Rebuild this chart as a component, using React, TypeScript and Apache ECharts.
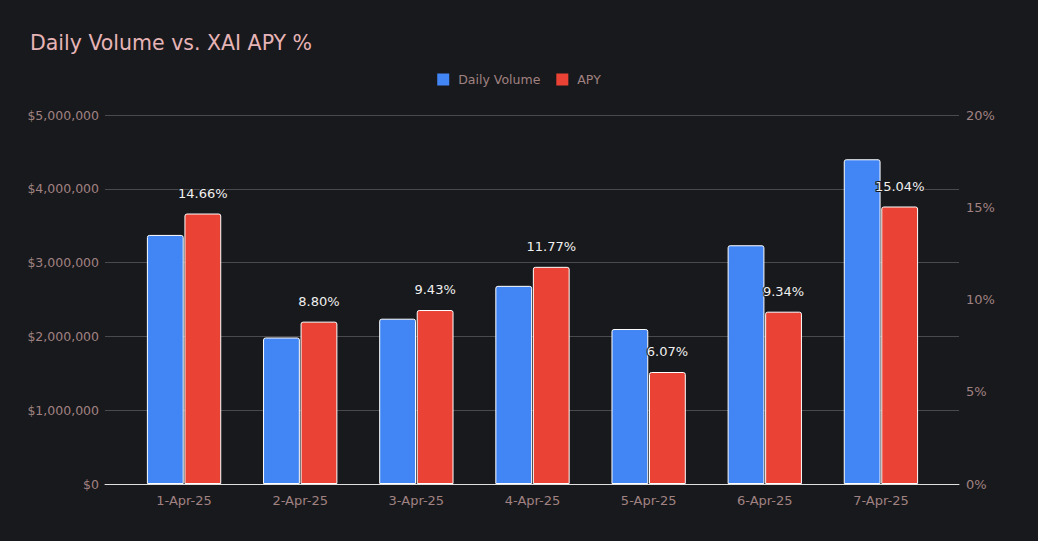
import React, { useEffect, useRef } from "react";
import * as echarts from "echarts";

const categories = ["1-Apr-25", "2-Apr-25", "3-Apr-25", "4-Apr-25", "5-Apr-25", "6-Apr-25", "7-Apr-25"];
const dailyVolume = [3375000, 1985000, 2240000, 2685000, 2100000, 3235000, 4400000];
const apy = [14.66, 8.8, 9.43, 11.77, 6.07, 9.34, 15.04];

const FONT = "'DejaVu Sans', Verdana, sans-serif";
const LABEL = "#a08282";

export default function App() {
  const ref = useRef<HTMLDivElement>(null);
  useEffect(() => {
    if (!ref.current) return;
    const chart = echarts.init(ref.current, undefined, { renderer: "svg" });
    chart.setOption({
      animation: false,
      backgroundColor: "#18191c",
      textStyle: { fontFamily: FONT },
      title: {
        text: "Daily Volume vs. XAI APY %",
        left: 25,
        top: 27,
        textStyle: { color: "#e6b4b6", fontSize: 20.5, fontWeight: "normal", fontFamily: FONT },
      },
      legend: {
        top: 68,
        left: "center",
        icon: "rect",
        itemWidth: 12,
        itemHeight: 12,
        itemGap: 16,
        itemStyle: { borderWidth: 0 },
        textStyle: { color: LABEL, fontSize: 12.5, fontFamily: FONT, padding: [0, 0, 0, 4] },
        data: ["Daily Volume", "APY"],
      },
      grid: [
        { left: 105, right: 79, top: 115, bottom: 57 },
        { left: 126, right: 99, top: 115, bottom: 57 },
      ],
      xAxis: [
        {
          type: "value",
          gridIndex: 0,
          min: 0,
          max: 1,
          axisLabel: { show: false },
          axisTick: { show: false },
          splitLine: { show: false },
          axisLine: { show: true, lineStyle: { color: "#e0e0e0", width: 1 } },
        },
        {
          type: "category",
          gridIndex: 1,
          data: categories,
          axisLine: { show: false },
          axisTick: { show: false },
          axisLabel: { color: LABEL, fontSize: 13, margin: 10, fontFamily: FONT },
        },
      ],
      yAxis: [
        {
          type: "value",
          gridIndex: 0,
          position: "left",
          min: 0,
          max: 5000000,
          interval: 1000000,
          axisLine: { show: false },
          axisTick: { show: false },
          axisLabel: {
            color: LABEL,
            fontSize: 12.5,
            margin: 6,
            fontFamily: FONT,
            formatter: (v: number) => "$" + v.toLocaleString("en-US"),
          },
          splitLine: { show: true, lineStyle: { color: "#4a4a4c", width: 1 } },
        },
        {
          type: "value",
          gridIndex: 0,
          position: "right",
          min: 0,
          max: 20,
          interval: 5,
          axisLine: { show: false },
          axisTick: { show: false },
          axisLabel: { color: LABEL, fontSize: 13, margin: 7, fontFamily: FONT, formatter: "{value}%" },
          splitLine: { show: false },
        },
        {
          type: "value",
          gridIndex: 1,
          min: 0,
          max: 5000000,
          show: false,
        },
        {
          type: "value",
          gridIndex: 1,
          min: 0,
          max: 20,
          show: false,
        },
      ],
      series: [
        {
          name: "Daily Volume",
          type: "bar",
          xAxisIndex: 1,
          yAxisIndex: 2,
          data: dailyVolume,
          barCategoryGap: "36%",
          barGap: "2%",
          itemStyle: { color: "#4285f4", borderColor: "#ffffff", borderWidth: 1, borderRadius: [2, 2, 0, 0] },
        },
        {
          name: "APY",
          type: "bar",
          xAxisIndex: 1,
          yAxisIndex: 3,
          data: apy,
          barCategoryGap: "36%",
          barGap: "2%",
          itemStyle: { color: "#ea4335", borderColor: "#ffffff", borderWidth: 1, borderRadius: [2, 2, 0, 0] },
          label: {
            show: true,
            position: "top",
            distance: 14,
            color: "#f0f0f0",
            fontSize: 13,
            fontFamily: FONT,
            textBorderColor: "#18191c",
            textBorderWidth: 2,
            formatter: (p: any) => p.value.toFixed(2) + "%",
          },
        },
      ],
    });
    return () => chart.dispose();
  }, []);
  return <div ref={ref} style={{ position: "fixed", left: 0, top: 0, width: 1038, height: 541 }} />;
}
